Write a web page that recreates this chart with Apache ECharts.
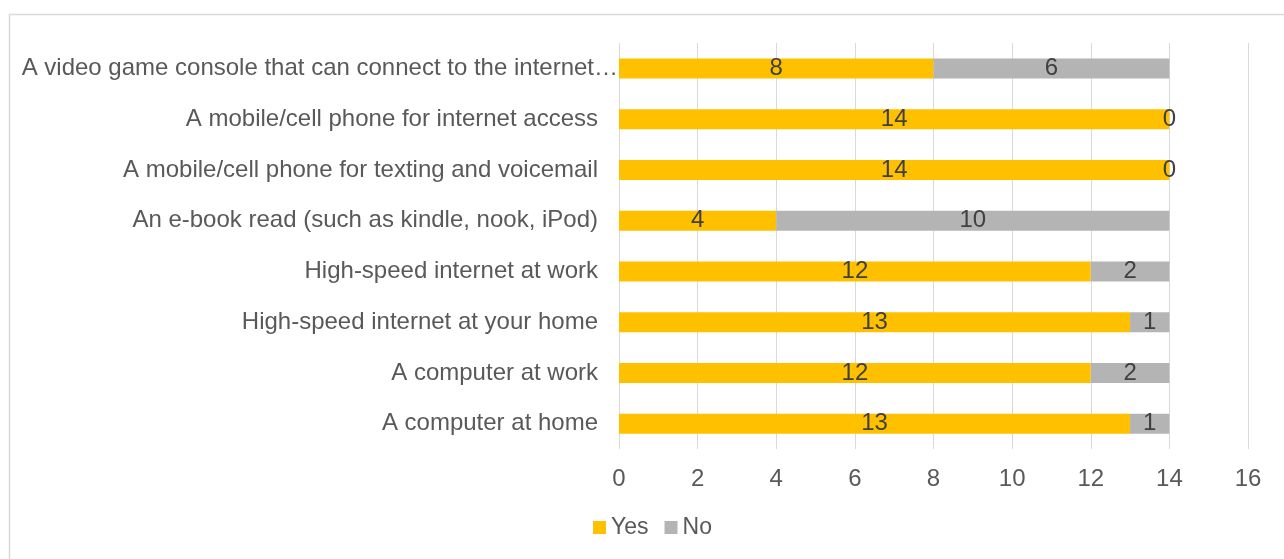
<!DOCTYPE html>
<html>
<head>
<meta charset="utf-8">
<script src="https://cdn.jsdelivr.net/npm/echarts@6/dist/echarts.min.js"></script>
<style>
html,body{margin:0;padding:0;background:#fff;}
#c{width:1284px;height:559px;}
</style>
</head>
<body>
<div id="c"></div>
<script>
const categories = [
  "A computer at home",
  "A computer at work",
  "High-speed internet at your home",
  "High-speed internet at work",
  "An e-book read (such as kindle, nook, iPod)",
  "A mobile/cell phone for texting and voicemail",
  "A mobile/cell phone for internet access",
  "A video game console that can connect to the internet…"
];
const yesValues = [13, 12, 13, 12, 4, 14, 14, 8];
const noValues  = [1, 2, 1, 2, 10, 0, 0, 6];
const seriesNames = ["Yes", "No"];
const xTicks = { min: 0, max: 16, interval: 2 };

const FONT = "'Liberation Sans', Arial, sans-serif";
const chart = echarts.init(document.getElementById('c'));

const yData = categories.map((c, i) => {
  if (i === categories.length - 1) {
    return { value: c, textStyle: { padding: [0, -20, 0, 0] } };
  }
  return c;
});

chart.setOption({
  animation: false,
  backgroundColor: '#ffffff',
  textStyle: { fontFamily: FONT },
  graphic: [{
    type: 'rect',
    left: 7, top: 12,
    shape: { width: 1320, height: 600 },
    style: { fill: 'none', stroke: '#d9d9d9', lineWidth: 1.5 },
    silent: true
  }],
  grid: { left: 619, right: 36, top: 43, bottom: 110 },
  legend: {
    left: 593, top: 516, padding: 0,
    itemWidth: 13, itemHeight: 13, itemGap: 16,
    icon: 'rect',
    textStyle: { fontSize: 23, color: '#595959', fontFamily: FONT },
    data: seriesNames
  },
  xAxis: {
    type: 'value',
    min: xTicks.min, max: xTicks.max, interval: xTicks.interval,
    axisLine: { show: false },
    axisTick: { show: false },
    splitLine: { show: true, lineStyle: { color: '#d9d9d9', width: 1 } },
    axisLabel: { fontSize: 24, color: '#595959', margin: 18, fontFamily: FONT }
  },
  yAxis: {
    type: 'category',
    data: yData,
    axisLine: { show: false },
    axisTick: { show: false },
    axisLabel: { fontSize: 24, color: '#595959', margin: 21, fontFamily: FONT }
  },
  series: [
    {
      name: seriesNames[0], type: 'bar', stack: 'total', barWidth: 20,
      itemStyle: { color: '#FFC000' },
      label: { show: true, position: 'inside', fontSize: 24, color: '#404040', fontFamily: FONT },
      data: yesValues
    },
    {
      name: seriesNames[1], type: 'bar', stack: 'total', barWidth: 20,
      itemStyle: { color: '#B4B4B4' },
      label: { show: true, position: 'inside', fontSize: 24, color: '#404040', fontFamily: FONT },
      data: noValues
    }
  ]
});
</script>
</body>
</html>
